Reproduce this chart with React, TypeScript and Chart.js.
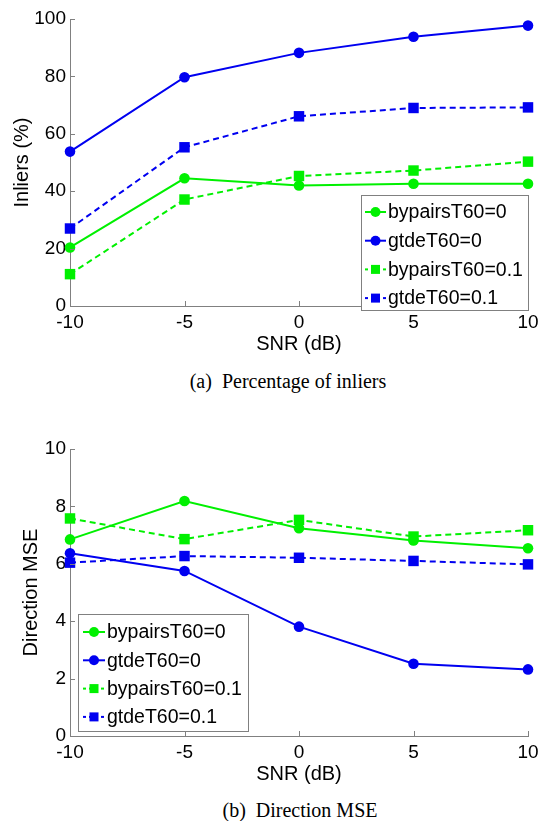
import React, { useEffect, useRef } from "react";
import { Chart, registerables } from "chart.js";

Chart.register(...registerables);

// ---------- data ----------
const snr = [-10, -5, 0, 5, 10];
const seriesNames = ["bypairsT60=0", "gtdeT60=0", "bypairsT60=0.1", "gtdeT60=0.1"];

const inliersBypairs0 = [20.4, 44.5, 42.0, 42.6, 42.6];
const inliersGtde0 = [53.8, 79.7, 88.2, 93.8, 97.7];
const inliersBypairs01 = [11.1, 37.1, 45.3, 47.2, 50.3];
const inliersGtde01 = [27.0, 55.3, 66.1, 69.0, 69.2];

const mseBypairs0 = [6.85, 8.19, 7.24, 6.81, 6.54];
const mseGtde0 = [6.37, 5.75, 3.81, 2.52, 2.32];
const mseBypairs01 = [7.58, 6.86, 7.53, 6.95, 7.17];
const mseGtde01 = [6.04, 6.27, 6.21, 6.1, 5.98];

const xTitle = "SNR (dB)";
const inliersTitle = "Inliers (%)";
const mseTitle = "Direction MSE";
const captionA = "(a)\u00a0\u00a0Percentage of inliers";
const captionB = "(b)\u00a0\u00a0Direction MSE";

// ---------- styles ----------
const GREEN = "#00f000";
const BLUE = "#0000f0";
const AXIS = "#808080";
const SANS = "'Liberation Sans', Arial, Helvetica, sans-serif";

function makeDatasets(values: number[][]) {
  const colors = [GREEN, BLUE, GREEN, BLUE];
  return values.map((vals, i) => {
    const square = i >= 2;
    return {
      label: seriesNames[i],
      data: snr.map((x, j) => ({ x, y: vals[j] })),
      borderColor: colors[i],
      backgroundColor: colors[i],
      borderWidth: 2,
      borderDash: square ? [6, 4] : [],
      pointStyle: square ? "rect" : "circle",
      pointRadius: square ? 7.4 : 5.3,
      pointBorderWidth: 0,
      pointBackgroundColor: colors[i],
      pointBorderColor: colors[i],
      tension: 0,
      clip: false as any,
      order: 4 - i,
    };
  });
}

const inwardTicks = {
  id: "inwardTicks",
  afterDatasetsDraw(chart: any) {
    const { ctx, chartArea, scales } = chart;
    ctx.save();
    ctx.strokeStyle = AXIS;
    ctx.lineWidth = 1;
    ctx.setLineDash([]);
    scales.x.ticks.forEach((t: any) => {
      const px = Math.round(scales.x.getPixelForValue(t.value)) + 0.5;
      ctx.beginPath();
      ctx.moveTo(px, chartArea.bottom);
      ctx.lineTo(px, chartArea.bottom - 5);
      ctx.stroke();
    });
    scales.y.ticks.forEach((t: any) => {
      const py = Math.round(scales.y.getPixelForValue(t.value)) + 0.5;
      ctx.beginPath();
      ctx.moveTo(chartArea.left, py);
      ctx.lineTo(chartArea.left + 5, py);
      ctx.stroke();
    });
    ctx.restore();
  },
};

const insideLegend = {
  id: "insideLegend",
  afterDatasetsDraw(chart: any, _args: any, opts: any) {
    const { ctx } = chart;
    const { x, y, w, h, firstRow, rowH, s0, s1, mk, tx } = opts;
    ctx.save();
    ctx.fillStyle = "#ffffff";
    ctx.fillRect(x, y, w, h);
    ctx.strokeStyle = AXIS;
    ctx.lineWidth = 1;
    ctx.strokeRect(x + 0.5, y + 0.5, w, h);
    ctx.font = `19.5px ${SANS}`;
    ctx.textBaseline = "middle";
    ctx.textAlign = "left";
    chart.data.datasets.forEach((ds: any, i: number) => {
      const cy = y + firstRow + i * rowH;
      ctx.strokeStyle = ds.borderColor;
      ctx.lineWidth = 2;
      ctx.setLineDash(ds.borderDash.length ? [3, 3] : []);
      ctx.beginPath();
      ctx.moveTo(x + s0, cy);
      ctx.lineTo(x + s1, cy);
      ctx.stroke();
      ctx.setLineDash([]);
      ctx.fillStyle = ds.borderColor;
      if (ds.pointStyle === "rect") {
        ctx.fillRect(x + mk - 4.5, cy - 4.5, 9, 9);
      } else {
        ctx.beginPath();
        ctx.arc(x + mk, cy, 5, 0, Math.PI * 2);
        ctx.fill();
      }
      ctx.fillStyle = "#000";
      ctx.fillText(ds.label, x + tx, cy + 1);
    });
    ctx.restore();
  },
};

type PanelProps = {
  top: number;
  height: number;
  values: number[][];
  yMax: number;
  yStep: number;
  yTitle: string;
  yTitlePad: number;
  areaBottom: number;
  legend: any;
};

function Panel(p: PanelProps) {
  const ref = useRef<HTMLCanvasElement | null>(null);
  useEffect(() => {
    if (!ref.current) return;
    const padTop = 19;
    const chart = new Chart(ref.current, {
      type: "line",
      data: { datasets: makeDatasets(p.values) as any },
      plugins: [inwardTicks, insideLegend],
      options: {
        responsive: false,
        animation: false,
        events: [],
        layout: { padding: { top: padTop, right: 11, left: 0, bottom: 0 } },
        plugins: {
          legend: { display: false },
          tooltip: { enabled: false },
          insideLegend: p.legend,
        } as any,
        scales: {
          x: {
            type: "linear",
            min: -10,
            max: 10,
            ticks: {
              stepSize: 5,
              color: "#000",
              font: { family: SANS, size: 19 },
              padding: 5,
              maxRotation: 0,
            },
            grid: { drawOnChartArea: false, drawTicks: false },
            border: { display: true, color: AXIS, width: 1 },
            title: {
              display: true,
              text: xTitle,
              color: "#000",
              font: { family: SANS, size: 20 },
              padding: { top: 0, bottom: 4 },
            },
            afterFit: (s: any) => {
              s.height = p.height - p.areaBottom;
              s.paddingLeft = 0;
              s.paddingRight = 0;
            },
          },
          y: {
            type: "linear",
            min: 0,
            max: p.yMax,
            ticks: {
              stepSize: p.yStep,
              color: "#000",
              font: { family: SANS, size: 19 },
              padding: 4,
            },
            grid: { drawOnChartArea: false, drawTicks: false },
            border: { display: true, color: AXIS, width: 1 },
            title: {
              display: true,
              text: p.yTitle,
              color: "#000",
              font: { family: SANS, size: 20 },
              padding: { top: p.yTitlePad, bottom: 0 },
            },
            afterFit: (s: any) => {
              s.width = 70;
              s.paddingTop = 0;
              s.paddingBottom = 0;
            },
          },
        },
      } as any,
    });
    return () => chart.destroy();
  }, []);
  return (
    <canvas
      ref={ref}
      width={539}
      height={p.height}
      style={{ position: "absolute", left: 0, top: p.top, width: 539, height: p.height }}
    />
  );
}

export default function App() {
  const capStyle: React.CSSProperties = {
    position: "absolute",
    fontFamily: "'Liberation Serif', 'Times New Roman', serif",
    fontSize: 20,
    color: "#000",
    whiteSpace: "nowrap",
    transform: "translate(-50%, -50%)",
    lineHeight: "24px",
  };
  return (
    <div style={{ position: "absolute", left: 0, top: 0, width: 539, height: 821, background: "#fff" }}>
      <Panel
        top={0}
        height={360}
        values={[inliersBypairs0, inliersGtde0, inliersBypairs01, inliersGtde01]}
        yMax={100}
        yStep={20}
        yTitle={inliersTitle}
        yTitlePad={10}
        areaBottom={306}
        legend={{ x: 361, y: 195, w: 167, h: 115, firstRow: 17, rowH: 28.7, s0: 4, s1: 25, mk: 14.5, tx: 27 }}
      />
      <div style={{ ...capStyle, left: 288, top: 381 }}>{captionA}</div>
      <Panel
        top={430}
        height={360}
        values={[mseBypairs0, mseGtde0, mseBypairs01, mseGtde01]}
        yMax={10}
        yStep={2}
        yTitle={mseTitle}
        yTitlePad={19}
        areaBottom={306}
        legend={{ x: 78, y: 184, w: 170, h: 117, firstRow: 18, rowH: 28.3, s0: 5, s1: 27, mk: 16, tx: 29 }}
      />
      <div style={{ ...capStyle, left: 300, top: 810 }}>{captionB}</div>
    </div>
  );
}
